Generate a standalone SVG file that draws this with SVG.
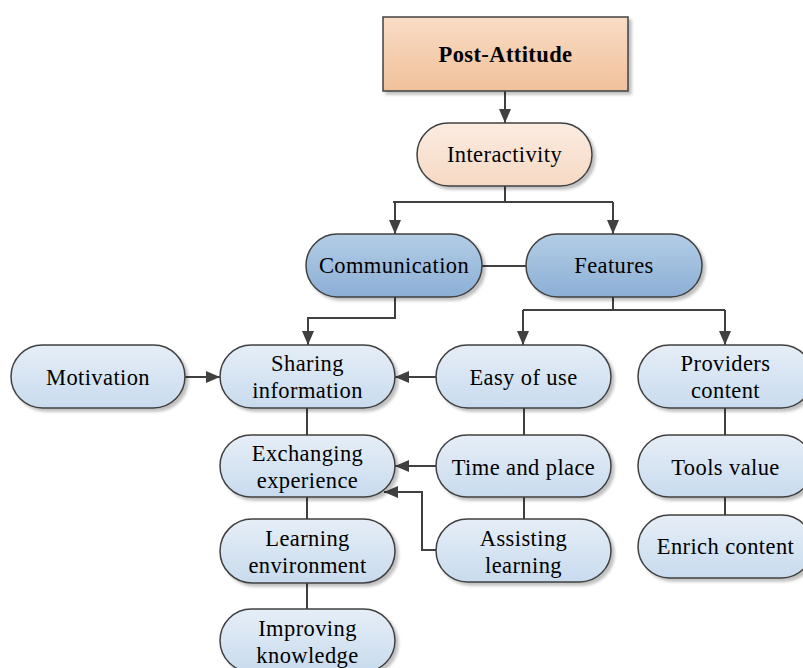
<svg xmlns="http://www.w3.org/2000/svg" width="803" height="668" viewBox="0 0 803 668">
  <defs>
    <linearGradient id="gPeachDark" x1="0" y1="0" x2="0" y2="1">
      <stop offset="0" stop-color="#f9dcc5"/>
      <stop offset="1" stop-color="#f0c19b"/>
    </linearGradient>
    <linearGradient id="gPeachLight" x1="0" y1="0" x2="0" y2="1">
      <stop offset="0" stop-color="#fbece1"/>
      <stop offset="1" stop-color="#f6d9c3"/>
    </linearGradient>
    <linearGradient id="gBlue" x1="0" y1="0" x2="0" y2="1">
      <stop offset="0" stop-color="#b3cde6"/>
      <stop offset="1" stop-color="#8cafd6"/>
    </linearGradient>
    <linearGradient id="gPale" x1="0" y1="0" x2="0" y2="1">
      <stop offset="0" stop-color="#e6eef7"/>
      <stop offset="1" stop-color="#c8dbee"/>
    </linearGradient>
    <filter id="shadow" x="-10%" y="-20%" width="125%" height="150%">
      <feGaussianBlur in="SourceAlpha" stdDeviation="1.5"/>
      <feOffset dx="3" dy="3" result="b"/>
      <feComponentTransfer><feFuncA type="linear" slope="0.25"/></feComponentTransfer>
      <feMerge><feMergeNode/><feMergeNode in="SourceGraphic"/></feMerge>
    </filter>
    <marker id="arrow" viewBox="0 0 14 12" refX="14" refY="6" markerWidth="14" markerHeight="12" markerUnits="userSpaceOnUse" orient="auto">
      <path d="M0,0 L14,6 L0,12 z" fill="#404040"/>
    </marker>
  </defs>
  <style>
    .box { stroke: #404040; stroke-width: 1.5; filter: url(#shadow); }
    .blue { fill: url(#gBlue); }
    .pale { fill: url(#gPale); }
    text { font-family: 'Liberation Serif', Tinos, 'Times New Roman', 'DejaVu Serif', serif; font-size: 22.5px; letter-spacing: 0.4px; fill: #000; text-anchor: middle; }
    .title { font-weight: bold; }
    .conn { fill: none; stroke: #404040; stroke-width: 2; }
    .conn-a { fill: none; stroke: #404040; stroke-width: 2; marker-end: url(#arrow); }
  </style>

  <rect width="803" height="668" fill="#ffffff"/>

  <g id="connectors">
    <path class="conn-a" d="M505,91 V123"/>
    <path class="conn" d="M505,186 V202 H393 M505,202 H613"/>
    <path class="conn-a" d="M395,202 V234"/>
    <path class="conn-a" d="M613,202 V234"/>
    <path class="conn" d="M482,266 H526"/>
    <path class="conn-a" d="M395,297 V318 H308 V345"/>
    <path class="conn" d="M613,297 V310 H523 M613,310 H725"/>
    <path class="conn-a" d="M523,310 V345"/>
    <path class="conn-a" d="M725,310 V345"/>
    <path class="conn-a" d="M185,377 H220"/>
    <path class="conn-a" d="M436,377 H395"/>
    <path class="conn-a" d="M436,466 H395"/>
    <path class="conn-a" d="M436,550 H422 V492 H384"/>
    <path class="conn" d="M307,408 V435 M307,497 V519 M307,583 V609"/>
    <path class="conn" d="M524,408 V435 M524,497 V519"/>
    <path class="conn" d="M725,408 V435 M725,497 V515"/>
  </g>

  <g id="post-attitude">
    <rect class="box" x="383" y="17" width="245" height="74" fill="url(#gPeachDark)"/>
    <text class="title" x="505.5" y="62">Post-Attitude</text>
  </g>
  <g id="interactivity">
    <rect class="box" x="417" y="123" width="175" height="63" rx="31.5" fill="url(#gPeachLight)"/>
    <text x="504.5" y="162">Interactivity</text>
  </g>
  <g id="communication">
    <rect class="box blue" x="306" y="234" width="176" height="63" rx="31.5"/>
    <text x="394" y="273">Communication</text>
  </g>
  <g id="features">
    <rect class="box blue" x="526" y="234" width="176" height="63" rx="31.5"/>
    <text x="614" y="273">Features</text>
  </g>
  <g id="motivation">
    <rect class="box pale" x="11" y="345" width="174" height="63" rx="31.5"/>
    <text x="98" y="385">Motivation</text>
  </g>
  <g id="sharing-information">
    <rect class="box pale" x="220" y="345" width="175" height="63" rx="31.5"/>
    <text x="307.5" y="371">Sharing</text>
    <text x="307.5" y="398">information</text>
  </g>
  <g id="exchanging-experience">
    <rect class="box pale" x="220" y="435" width="175" height="62" rx="31"/>
    <text x="307.5" y="461">Exchanging</text>
    <text x="307.5" y="488">experience</text>
  </g>
  <g id="learning-environment">
    <rect class="box pale" x="220" y="519" width="175" height="64" rx="32"/>
    <text x="307.5" y="546">Learning</text>
    <text x="307.5" y="573">environment</text>
  </g>
  <g id="improving-knowledge">
    <rect class="box pale" x="220" y="609" width="175" height="63" rx="31.5"/>
    <text x="307.5" y="636">Improving</text>
    <text x="307.5" y="663">knowledge</text>
  </g>
  <g id="easy-of-use">
    <rect class="box pale" x="436" y="345" width="175" height="63" rx="31.5"/>
    <text x="523.5" y="385">Easy of use</text>
  </g>
  <g id="time-and-place">
    <rect class="box pale" x="436" y="435" width="175" height="62" rx="31"/>
    <text x="523.5" y="475">Time and place</text>
  </g>
  <g id="assisting-learning">
    <rect class="box pale" x="436" y="519" width="175" height="63" rx="31.5"/>
    <text x="523.5" y="546">Assisting</text>
    <text x="523.5" y="573">learning</text>
  </g>
  <g id="providers-content">
    <rect class="box pale" x="638" y="345" width="175" height="63" rx="31.5"/>
    <text x="725.5" y="371">Providers</text>
    <text x="725.5" y="398">content</text>
  </g>
  <g id="tools-value">
    <rect class="box pale" x="638" y="435" width="175" height="62" rx="31"/>
    <text x="725.5" y="475">Tools value</text>
  </g>
  <g id="enrich-content">
    <rect class="box pale" x="638" y="515" width="175" height="63" rx="31.5"/>
    <text x="725.5" y="554">Enrich content</text>
  </g>
</svg>
